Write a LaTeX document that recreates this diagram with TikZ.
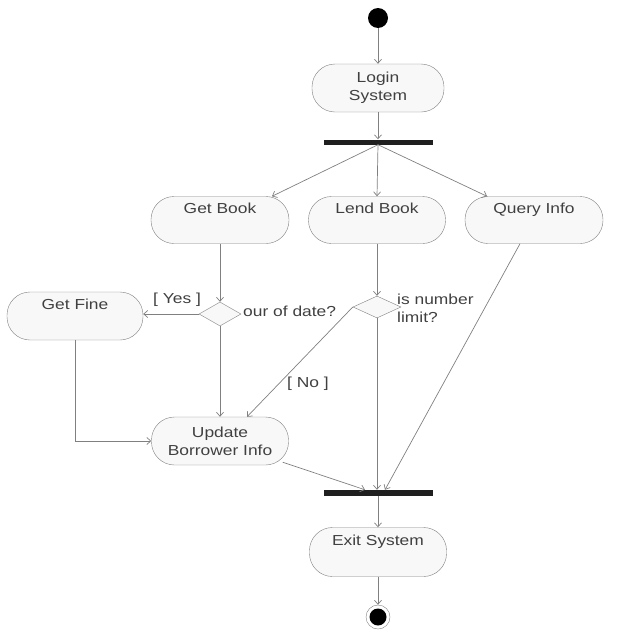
\documentclass[tikz,border=0pt]{standalone}
\usepackage{fontspec}
\setmainfont{Liberation Sans}[FakeStretch=1.2]
\usetikzlibrary{arrows.meta,shapes.geometric,calc}
\definecolor{lin}{HTML}{808080}
\definecolor{txt}{HTML}{404040}
\definecolor{fil}{HTML}{F8F8F8}
\tikzset{
  act/.style={draw=lin, fill=fil, rounded corners=23pt, align=center,
    text=txt, font=\fontsize{14.5}{18}\selectfont, inner sep=0pt,
    minimum width=137pt, minimum height=47pt},
  bar/.style={fill=black!88, draw=none, minimum width=109pt, minimum height=5pt, inner sep=0pt},
  dec/.style={diamond, draw=lin, fill=fil, inner sep=0pt},
  lbl/.style={text=txt, font=\fontsize{14.5}{18}\selectfont, inner sep=0pt, align=left},
  flow/.style={draw=lin, line width=0.7pt, -{Straight Barb[length=4pt,width=7pt]}},
}
\begin{document}
\begin{tikzpicture}[x=1pt,y=-1pt]
\useasboundingbox (0,0) rectangle (640,640);
\node[circle, fill=black, minimum size=20pt, inner sep=0pt] (start) at (378,18) {};
\node[act, minimum width=132pt, minimum height=48pt] (login) at (378,88) {Login\\System};
\node[bar] (fork1) at (378,142) {};
\node[act, minimum width=138pt] (getbook) at (220,220) {Get Book\\[6pt]\mbox{}};
\node[act] (lendbook) at (377,220) {Lend Book\\[6pt]\mbox{}};
\node[act, minimum width=138pt] (query) at (534,220) {Query Info\\[6pt]\mbox{}};
\node[dec, minimum width=42pt, minimum height=24pt] (d1) at (220,314) {};
\node[dec, minimum width=48pt, minimum height=22pt] (d2) at (377,307) {};
\node[act, minimum width=136pt, minimum height=48pt] (getfine) at (75,316) {Get Fine\\[6pt]\mbox{}};
\node[act, minimum height=48pt] (update) at (220,441) {Update\\Borrower Info};
\node[bar, minimum height=6pt] (fork2) at (378,493) {};
\node[act, minimum height=49pt] (exit) at (378,552) {Exit System\\[6pt]\mbox{}};
\node[circle, draw=lin, fill=white, minimum size=24pt, inner sep=0pt] (end) at (378,617) {};
\node[circle, fill=black, minimum size=17pt, inner sep=0pt] (endin) at (end.center) {};

\node[lbl, anchor=west] (yes) at (153,300) {[ Yes ]};
\node[lbl, anchor=west] (ood) at (243,311) {our of date?};
\node[lbl, anchor=north west] (lim) at (397,294) {is number\\limit?};
\node[lbl, anchor=west] (no) at (287,384) {[ No ]};

\draw[flow] (start) -- (login);
\draw[flow] (login) -- (fork1);
\draw[flow] (fork1.south) -- ([xshift=52pt]getbook.north);
\draw[flow] (fork1.south) -- (lendbook.north);
\draw[flow] (fork1.south) -- ([xshift=-47pt]query.north);
\draw[flow] (getbook.south) -- (d1.north);
\draw[flow] (lendbook.south) -- (d2.north);
\draw[flow] (d1.west) -- (getfine.east |- d1.west);
\draw[flow] (d1.south) -- (update.north);
\draw[flow] (d2.west) -- ([xshift=27pt]update.north);
\draw[flow] (getfine.south) |- (update.west);
\draw[flow] (d2.south) -- (d2.south |- fork2.north);
\draw[flow] ([xshift=-14pt]query.south) -- ([xshift=7pt]fork2.north);
\draw[flow] ([xshift=-6pt,yshift=3pt]update.south east) -- ([xshift=-13pt]fork2.north);
\draw[flow] (fork2) -- (exit);
\draw[flow] (exit) -- (end);
\end{tikzpicture}
\end{document}
